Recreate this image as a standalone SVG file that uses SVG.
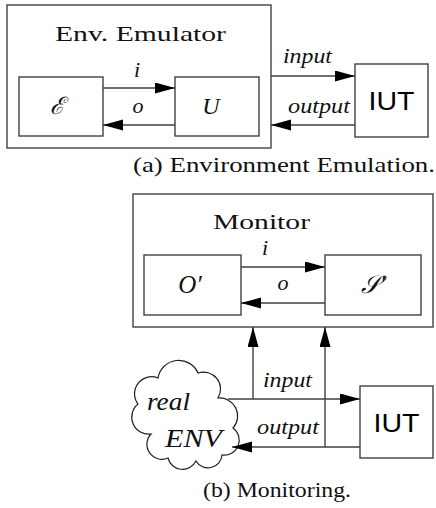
<svg xmlns="http://www.w3.org/2000/svg" width="436" height="508" viewBox="0 0 436 508">
<defs>
<marker id="ah" markerUnits="userSpaceOnUse" markerWidth="21" markerHeight="12" refX="20" refY="5.5" orient="auto">
<path d="M0,0 L20,5.5 L0,11 z" fill="#000"/>
</marker>
<style>
.box{fill:#fff;stroke:#404040;stroke-width:1.4}
.ln{fill:none;stroke:#202020;stroke-width:1.2}
.ar{fill:none;stroke:#404040;stroke-width:1.4;marker-end:url(#ah)}
.rm{font-family:"Liberation Serif",serif;fill:#111}
.it{font-family:"Liberation Serif",serif;font-style:italic;fill:#111}
.sf{font-family:"Liberation Sans",Arial,sans-serif;fill:#000}
</style>
</defs>

<g id="env-emulator">
<rect class="box" x="7" y="5" width="264" height="143"/>
<text class="rm" x="55" y="41" font-size="22" textLength="171" lengthAdjust="spacingAndGlyphs">Env. Emulator</text>
</g>
<g id="E-box">
<rect class="box" x="19" y="77" width="84" height="59"/>
<text class="it" x="57" y="114" font-size="24" text-anchor="middle">ℰ</text>
</g>
<g id="U-box">
<rect class="box" x="175" y="77" width="84" height="59"/>
<text class="it" x="211" y="114" font-size="24" text-anchor="middle">U</text>
</g>
<g id="IUT-a">
<rect class="box" x="355" y="64" width="73" height="73"/>
<text class="sf" x="391.5" y="110" font-size="26" text-anchor="middle" textLength="46" lengthAdjust="spacingAndGlyphs">IUT</text>
</g>
<text class="rm" x="133" y="172" font-size="21" textLength="302" lengthAdjust="spacingAndGlyphs">(a) Environment Emulation.</text>

<g id="monitor">
<rect class="box" x="133" y="194" width="300" height="133"/>
<text class="rm" x="213" y="229" font-size="22" textLength="97" lengthAdjust="spacingAndGlyphs">Monitor</text>
</g>
<g id="O-box">
<rect class="box" x="144" y="255" width="97" height="60"/>
<text class="it" x="190" y="293" font-size="25" text-anchor="middle">O′</text>
</g>
<g id="S-box">
<rect class="box" x="325" y="255" width="96" height="60"/>
<text class="it" x="373" y="293" font-size="25" text-anchor="middle">𝒮′</text>
</g>
<g id="cloud">
<path class="ln" d="M138,404 A17,17 0 0 1 158,378 A21,21 0 0 1 198,373 A17,17 0 0 1 218,398 A18,18 0 0 1 233,428 A15,15 0 0 1 222,455 A14,14 0 0 1 196,461 A15,15 0 0 1 168,458 A15,15 0 0 1 151,434 A17,17 0 0 1 138,404 Z"/>
<text class="it" x="147" y="410" font-size="25" textLength="43" lengthAdjust="spacingAndGlyphs">real</text>
<text class="it" x="165" y="447" font-size="25" textLength="57" lengthAdjust="spacingAndGlyphs">ENV</text>
</g>
<g id="IUT-b">
<rect class="box" x="360" y="386" width="73" height="72"/>
<text class="sf" x="396.5" y="432" font-size="26" text-anchor="middle" textLength="46" lengthAdjust="spacingAndGlyphs">IUT</text>
</g>
<text class="rm" x="203" y="497" font-size="21" textLength="148" lengthAdjust="spacingAndGlyphs">(b) Monitoring.</text>

<g id="connectors">
<path class="ar" d="M103,88 H175"/>
<path class="ar" d="M175,125 H103"/>
<path class="ar" d="M271,76 H355"/>
<path class="ar" d="M355,125 H271"/>
<path class="ar" d="M241,267 H325"/>
<path class="ar" d="M325,303 H241"/>
<path class="ar" d="M228,399 H360"/>
<path class="ar" d="M360,447 H232"/>
<path class="ar" d="M253,399 V327"/>
<path class="ar" d="M325,447 V327"/>
<text class="it" x="137" y="77" font-size="22" text-anchor="middle">i</text>
<text class="it" x="138" y="113" font-size="22" text-anchor="middle">o</text>
<text class="it" x="283" y="63" font-size="20" textLength="49" lengthAdjust="spacingAndGlyphs">input</text>
<text class="it" x="288" y="113" font-size="20" textLength="62" lengthAdjust="spacingAndGlyphs">output</text>
<text class="it" x="265" y="255" font-size="22" text-anchor="middle">i</text>
<text class="it" x="283" y="290" font-size="22" text-anchor="middle">o</text>
<text class="it" x="263" y="387" font-size="20" textLength="49" lengthAdjust="spacingAndGlyphs">input</text>
<text class="it" x="257" y="434" font-size="20" textLength="62" lengthAdjust="spacingAndGlyphs">output</text>
</g>
</svg>
